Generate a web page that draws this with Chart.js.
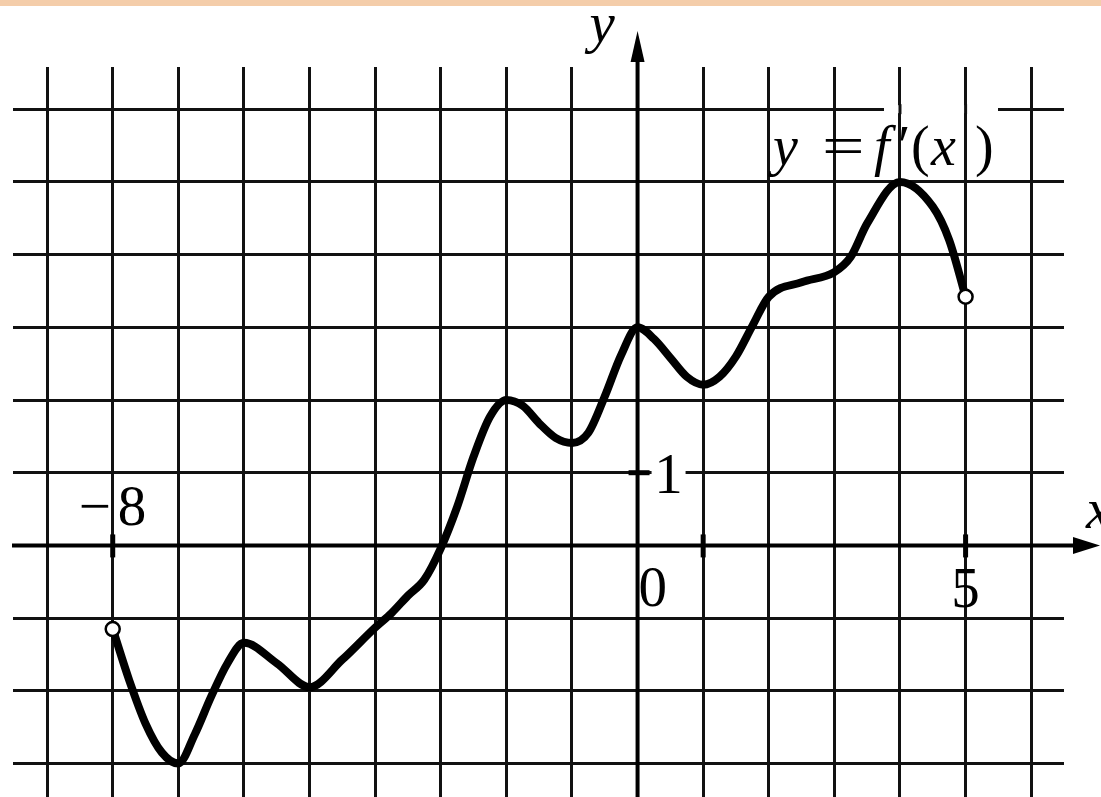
<!DOCTYPE html>
<html>
<head>
<meta charset="utf-8">
<script src="https://cdn.jsdelivr.net/npm/chart.js@4.4.1/dist/chart.umd.min.js"></script>
<style>
  body { margin: 0; background: #fff; }
  canvas { display: block; }
</style>
</head>
<body>
<canvas id="canvas" width="1101" height="797"></canvas>
<script>
const xValues = [-8, -7.75, -7.5, -7.25, -7, -6.75, -6.5, -6.25, -6, -5.5, -5, -4.5, -4, -3.75, -3.5, -3.25, -3,
  -2.75, -2.5, -2.25, -2, -1.75, -1.5, -1.25, -1, -0.75, -0.5, -0.25, 0, 0.25, 0.5, 0.75, 1, 1.25, 1.5, 1.75, 2,
  2.5, 3, 3.25, 3.5, 4, 4.5, 4.75, 5];
const yValues = [-1.15, -1.85, -2.45, -2.85, -3, -2.6, -2.08, -1.62, -1.34, -1.62, -1.95, -1.57, -1.13, -0.93, -0.69, -0.47, -0.04,
  0.53, 1.22, 1.77, 2, 1.92, 1.68, 1.48, 1.41, 1.55, 2.05, 2.62, 3, 2.84, 2.58, 2.32, 2.21, 2.32, 2.6, 3.02, 3.42,
  3.62, 3.76, 3.97, 4.43, 5, 4.66, 4.2, 3.42];

const xTickLabels = ['\u2212', '8', '0', '5'];
const xTickValues = [-8, 0, 5];
const xMarks = [-8, 1, 5];
const yTickLabels = ['1'];
const yTickValues = [1];

const ctx = document.getElementById('canvas');
const serif = '"Liberation Serif", "DejaVu Serif", serif';

const paperPlugin = {
  id: 'paper',
  beforeDraw(chart) {
    const c = chart.ctx;
    c.save();
    c.fillStyle = '#fff';
    c.fillRect(0, 0, chart.width, chart.height);
    c.fillStyle = '#f4cdaa';
    c.fillRect(0, 0, chart.width, 6);
    c.restore();
  },
  beforeDatasetsDraw(chart) {
    const c = chart.ctx;
    const sx = chart.scales.x, sy = chart.scales.y;
    const x0 = sx.getPixelForValue(0), y0 = sy.getPixelForValue(0);
    c.save();
    c.strokeStyle = '#000';
    c.fillStyle = '#000';
    // gap in the top grid line under the function label
    const yTop = sy.getPixelForValue(6);
    c.fillStyle = '#fff';
    c.fillRect(884, yTop - 4, 114, 8);
    c.strokeStyle = '#111';
    c.lineWidth = 3;
    [4, 5].forEach(v => {
      const p = sx.getPixelForValue(v);
      c.beginPath();
      c.moveTo(p, yTop - 5);
      c.lineTo(p, yTop + 5);
      c.stroke();
    });
    c.fillStyle = '#000';
    c.strokeStyle = '#000';
    c.lineWidth = 4;
    // x axis + arrow
    c.beginPath();
    c.moveTo(12, y0);
    c.lineTo(1080, y0);
    c.stroke();
    c.beginPath();
    c.moveTo(1100, y0);
    c.lineTo(1073, y0 - 8.5);
    c.lineTo(1073, y0 + 8.5);
    c.closePath();
    c.fill();
    // y axis + arrow
    c.beginPath();
    c.moveTo(x0, chart.height);
    c.lineTo(x0, 55);
    c.stroke();
    c.beginPath();
    c.moveTo(x0, 31);
    c.lineTo(x0 - 7, 62);
    c.lineTo(x0 + 7, 62);
    c.closePath();
    c.fill();
    // tick marks
    c.lineWidth = 5;
    xMarks.forEach(v => {
      const p = sx.getPixelForValue(v);
      c.beginPath();
      c.moveTo(p, y0 - 11);
      c.lineTo(p, y0 + 12);
      c.stroke();
    });
    yTickValues.forEach(v => {
      const p = sy.getPixelForValue(v);
      c.fillStyle = '#fff';
      c.fillRect(x0 + 14, p - 7, 34, 13);
      c.fillStyle = '#000';
      c.beginPath();
      c.moveTo(x0 - 9, p);
      c.lineTo(x0 + 12, p);
      c.stroke();
    });
    c.restore();
  },
  afterDraw(chart) {
    const c = chart.ctx;
    const sx = chart.scales.x, sy = chart.scales.y;
    const x0 = sx.getPixelForValue(0);
    c.save();
    c.fillStyle = '#000';
    c.textBaseline = 'alphabetic';
    c.font = '57px ' + serif;
    // x tick labels
    c.textAlign = 'left';
    const pm8 = sx.getPixelForValue(xTickValues[0]);
    c.fillText(xTickLabels[0], pm8 - 34, 525);
    c.fillText(xTickLabels[1], pm8 + 5, 525);
    c.fillText(xTickLabels[2], sx.getPixelForValue(xTickValues[1]) + 1, 606);
    c.textAlign = 'center';
    c.fillText(xTickLabels[3], sx.getPixelForValue(xTickValues[2]), 607);
    // y tick label
    c.fillText(yTickLabels[0], x0 + 31, 493);
    // axis names
    c.textAlign = 'left';
    c.font = 'italic 57px ' + serif;
    c.fillText('y', x0 - 48, 42);
    c.fillText('x', 1086, 528);
    // function label y = f'(x)
    const base = 165;
    c.font = 'italic 56px ' + serif;
    c.fillText('y', 773, base);
    c.fillText('f', 874, base);
    c.fillText('x', 931, base);
    c.font = '56px ' + serif;
    c.fillText('\u2032', 898, base);
    c.fillText('(', 911, base);
    c.fillText(')', 975, base);
    c.save();
    c.translate(822, base);
    c.scale(1.35, 1);
    c.fillText('=', 0, 0);
    c.restore();
    c.restore();
  }
};

new Chart(ctx, {
  type: 'line',
  data: {
    datasets: [{
      data: xValues.map((x, i) => ({ x: x, y: yValues[i] })),
      borderColor: '#000',
      borderWidth: 8,
      borderCapStyle: 'round',
      borderJoinStyle: 'round',
      cubicInterpolationMode: 'monotone',
      pointRadius: xValues.map((x, i) => (i === 0 || i === xValues.length - 1) ? 7 : 0),
      pointBorderWidth: 2.5,
      pointBackgroundColor: '#fff',
      pointBorderColor: '#000'
    }]
  },
  options: {
    responsive: false,
    animation: false,
    layout: { autoPadding: false, padding: { left: 13, right: 37, top: 67, bottom: 0 } },
    scales: {
      x: {
        type: 'linear',
        min: -9.52,
        max: 6.5,
        afterFit: axis => { axis.height = 0; },
        ticks: { display: false, stepSize: 1, includeBounds: false },
        grid: { color: '#111', lineWidth: 3, drawTicks: false },
        border: { display: false }
      },
      y: {
        type: 'linear',
        min: -3.46,
        max: 6.58,
        afterFit: axis => { axis.width = 0; },
        ticks: { display: false, stepSize: 1, includeBounds: false },
        grid: { color: '#111', lineWidth: 3, drawTicks: false },
        border: { display: false }
      }
    },
    plugins: {
      legend: { display: false },
      tooltip: { enabled: false }
    }
  },
  plugins: [paperPlugin]
});
</script>
</body>
</html>
